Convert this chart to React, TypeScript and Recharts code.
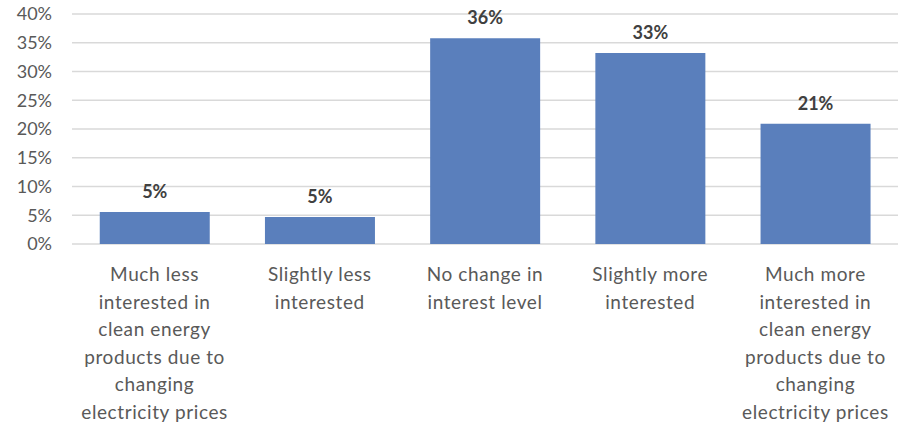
import { Bar, BarChart, CartesianGrid, LabelList, XAxis, YAxis } from "recharts"

const categories = [
  "Much less\ninterested in\nclean energy\nproducts due to\nchanging\nelectricity prices",
  "Slightly less\ninterested",
  "No change in\ninterest level",
  "Slightly more\ninterested",
  "Much more\ninterested in\nclean energy\nproducts due to\nchanging\nelectricity prices",
]
const shares = [5.55, 4.7, 35.8, 33.2, 20.9]
const shareLabels = ["5%", "5%", "36%", "33%", "21%"]
const yTicks = [0, 5, 10, 15, 20, 25, 30, 35, 40]

const data = categories.map((name, i) => ({ name, value: shares[i], label: shareLabels[i] }))

const FONT = "Lato, 'Open Sans', sans-serif"

function CategoryTick(props: any) {
  const { x, y, payload } = props
  const lines = String(payload.value).split("\n")
  return (
    <text
      x={x}
      y={y}
      textAnchor="middle"
      fill="#595959"
      fontSize={19}
      letterSpacing={0.6}
      fontFamily={FONT}
    >
      {lines.map((line, i) => (
        <tspan key={i} x={x} dy={i === 0 ? 29 : 27.6}>
          {line}
        </tspan>
      ))}
    </text>
  )
}

export default function App() {
  return (
    <div style={{ position: "absolute", left: 0, top: 0, width: 898, height: 429, background: "#fff" }}>
      <BarChart
        width={898}
        height={429}
        data={data}
        margin={{ top: 14, right: 0, left: 0, bottom: 0 }}
        barCategoryGap="16.8%"
      >
        <CartesianGrid vertical={false} stroke="#d9d9d9" strokeWidth={1.5} />
        <XAxis
          dataKey="name"
          axisLine={false}
          tickLine={false}
          interval={0}
          height={185}
          tick={<CategoryTick />}
        />
        <YAxis
          domain={[0, 40]}
          ticks={yTicks}
          width={72}
          axisLine={false}
          tickLine={false}
          tickSize={0}
          tickMargin={20}
          tickFormatter={(v) => `${v}%`}
          tick={{ fill: "#595959", fontSize: 18, fontFamily: FONT }}
        />
        <Bar dataKey="value" fill="#5a7fbc" isAnimationActive={false}>
          <LabelList
            dataKey="label"
            position="top"
            offset={14}
            fill="#404040"
            fontSize={18}
            fontWeight="bold"
            fontFamily={FONT}
          />
        </Bar>
      </BarChart>
    </div>
  )
}
